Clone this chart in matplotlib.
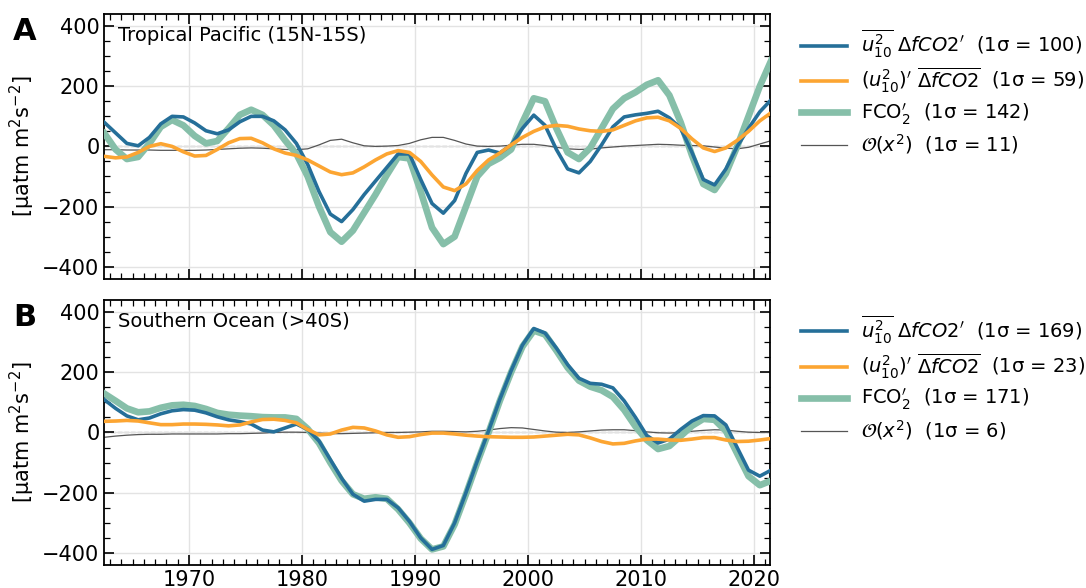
import numpy as np
import matplotlib
matplotlib.use("Agg")
import matplotlib.pyplot as plt

years = np.arange(1962.5, 2022.0, 1.0)

# Tropical Pacific (15N-15S)
tp_mean_wind = [80, 45, 10, 2, 30, 75, 100, 98, 78, 52, 42, 55, 82, 100, 100, 85, 55, 10,
                -60, -150, -225, -250, -210, -160, -115, -70, -25, -25, -110, -190, -222, -180,
                -90, -20, -12, -22, 5, 60, 104, 70, -10, -75, -88, -50, 5, 65, 98, 105, 110,
                117, 95, 60, -20, -110, -128, -75, 0, 60, 115, 155]
tp_wind_anom = [-33, -38, -35, -20, 0, 9, 0, -18, -32, -30, -10, 12, 26, 27, 12, -8, -22, -30,
                -45, -65, -85, -94, -88, -68, -45, -25, -14, -20, -50, -95, -135, -147, -125,
                -80, -45, -22, 5, 30, 50, 65, 70, 67, 58, 52, 50, 55, 70, 85, 95, 97, 85, 60,
                25, -5, -17, -5, 20, 50, 85, 112]
tp_flux = [44, -10, -42, -35, 10, 65, 88, 70, 35, 10, 18, 60, 105, 122, 105, 70, 20, -25,
           -100, -200, -285, -317, -280, -220, -160, -95, -35, -40, -150, -270, -325, -300,
           -200, -100, -58, -38, -10, 80, 160, 150, 60, -20, -42, -5, 60, 125, 160, 180, 205,
           220, 170, 80, -30, -125, -145, -90, 0, 100, 200, 285]
tp_second = [-11, -11, -12, -12, -12, -13, -13, -13, -13, -12, -10, -8, -6, -5, -6, -8, -10, -11,
             -8, 5, 20, 24, 12, 2, 0, 1, 3, 10, 22, 30, 30, 20, 8, 1, 0, 1, 4, 7, 7, 3, -3, -8,
             -10, -9, -5, -2, 1, 3, 5, 7, 6, 4, 3, 2, -2, -6, -8, -3, 8, 19]

# Southern Ocean (>40S)
so_mean_wind = [109, 80, 55, 42, 48, 62, 72, 76, 74, 65, 52, 42, 36, 28, 8, 2, 15, 28,
                10, -28, -90, -152, -205, -228, -222, -222, -250, -295, -350, -388, -375, -300,
                -200, -95, 5, 110, 205, 290, 345, 330, 280, 225, 180, 163, 160, 148, 105, 50,
                -10, -35, -22, 10, 38, 56, 55, 25, -50, -125, -145, -125]
so_wind_anom = [37, 38, 40, 38, 32, 26, 26, 28, 28, 27, 25, 22, 25, 35, 43, 44, 40, 32,
                10, -8, -5, 8, 17, 15, 5, -8, -16, -14, -7, -2, -2, -5, -9, -12, -14, -15, -16,
                -16, -15, -12, -9, -6, -8, -18, -30, -38, -36, -28, -22, -22, -25, -26, -22,
                -17, -17, -25, -30, -29, -25, -20]
so_flux = [129, 105, 80, 67, 70, 82, 90, 92, 88, 78, 65, 59, 56, 54, 51, 50, 50, 45,
           12, -35, -100, -160, -205, -220, -215, -220, -255, -300, -352, -388, -378, -305,
           -205, -100, 0, 105, 200, 285, 338, 325, 272, 215, 172, 152, 140, 118, 75, 20,
           -25, -55, -45, -12, 22, 45, 42, 5, -70, -145, -175, -160]
so_second = [-16, -12, -9, -7, -6, -6, -5, -5, -5, -5, -5, -4, -4, -3, -2, 0, 1, 1,
             0, -2, -4, -4, -3, -2, -1, 0, 0, 1, 2, 4, 4, 3, 2, 4, 8, 13, 16, 15, 10, 5, 1, 0,
             2, 5, 8, 9, 9, 6, 2, -1, -2, 0, 4, 7, 9, 8, 4, 1, 0, 0]

panels = [
    ("A", "Tropical Pacific (15N-15S)", tp_mean_wind, tp_wind_anom, tp_flux, tp_second, [100, 59, 142, 11]),
    ("B", "Southern Ocean (>40S)", so_mean_wind, so_wind_anom, so_flux, so_second, [169, 23, 171, 6]),
]

c_blue = "#256f99"
c_orange = "#fca532"
c_green = "#86bfa9"
c_gray = "#555555"

fig = plt.figure(figsize=(10.86, 5.88), dpi=100)
ax_a = fig.add_axes([0.096, 0.526, 0.613, 0.450])
ax_b = fig.add_axes([0.096, 0.039, 0.613, 0.451])

for ax, (letter, title, mw, wa, fl, sec, sig) in zip([ax_a, ax_b], panels):
    ax.axhline(0, color="gray", ls="--", lw=0.9, zorder=1)
    ax.plot(years, mw, color=c_blue, lw=2.6, zorder=4,
            label=r"$\overline{u_{10}^2}\ \Delta fCO2^{\prime}$  (1σ = %d)" % sig[0])
    ax.plot(years, wa, color=c_orange, lw=2.6, zorder=5,
            label=r"$(u_{10}^2)^{\prime}\ \overline{\Delta fCO2}$  (1σ = %d)" % sig[1])
    ax.plot(years, fl, color=c_green, lw=4.8, zorder=3,
            label=r"FCO$_2^{\prime}$  (1σ = %d)" % sig[2])
    ax.plot(years, sec, color=c_gray, lw=0.9, zorder=2,
            label=r"$\mathcal{O}(x^2)$  (1σ = %d)" % sig[3])

    ax.set_xlim(1962.5, 2021.4)
    ax.set_ylim(-440, 440)
    ax.set_yticks([-400, -200, 0, 200, 400])
    ax.set_xticks([1970, 1980, 1990, 2000, 2010, 2020])
    ax.set_xticks(np.arange(1963, 2022, 1), minor=True)
    ax.set_yticks(np.arange(-400, 401, 50), minor=True)
    ax.grid(True, which="major", color="#e3e3e3", lw=1.0, zorder=0)
    ax.tick_params(which="both", direction="in", top=True, right=True, labelsize=15)
    ax.tick_params(which="major", length=7, width=1.2)
    ax.tick_params(which="minor", length=4, width=0.9)
    for s in ax.spines.values():
        s.set_linewidth(1.3)
    ax.set_ylabel(r"[μatm m$^2$s$^{-2}$]", fontsize=15, labelpad=4)
    ax.text(0.021, 0.955, title, transform=ax.transAxes, fontsize=14, va="top", ha="left")
    ax.text(-0.137, 0.99, letter, transform=ax.transAxes, fontsize=22, fontweight="bold",
            va="top", ha="left")
    ax.legend(loc="upper left", bbox_to_anchor=(1.02, 1.015), frameon=False, fontsize=14,
              handlelength=2.4, handletextpad=0.7, labelspacing=0.3)

ax_a.tick_params(labelbottom=False)

fig.savefig("out.png", dpi=100)
